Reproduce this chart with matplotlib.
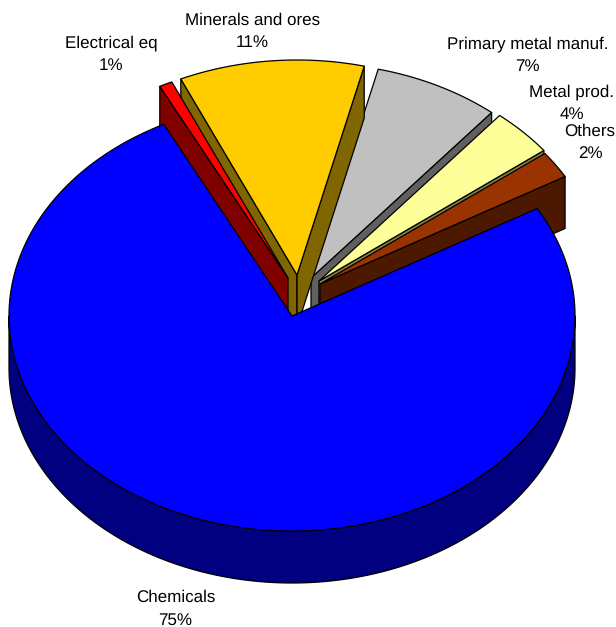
import matplotlib
matplotlib.use('Agg')
import matplotlib.pyplot as plt
import numpy as np
from matplotlib.patches import Polygon

# values, printed labels kept apart (they are rounded)
categories = ['Chemicals', 'Electrical eq', 'Minerals and ores',
              'Primary metal manuf.', 'Metal prod.', 'Others']
values = [75.85, 0.75, 10.55, 7.2, 3.6, 2.05]
pct_labels = ['75%', '1%', '11%', '7%', '4%', '2%']

top_colors = ['#0000FF', '#FF0000', '#FFCC00', '#C0C0C0', '#FFFF99', '#993300']
side_colors = ['#000080', '#800000', '#806600', '#606060', '#80804C', '#4C1900']

# how far each slice is pulled out, in pixels
explode_dx = [0, -4, 5, 19, 27, 28]
explode_dy = [0, -38, -41, -38, -35, -32]
# back to front
draw_order = [3, 4, 5, 2, 1, 0]

label_x = [175.5, 111, 252.5, 527.5, 572, 590]
label_y = [597.5, 43.5, 20, 44, 92.5, 131]
line_gap = 22.5

cx, cy = 292, 316
rx, ry = 283, 215
depth = 52
start = 60.0

plt.rcParams['font.family'] = ['Liberation Sans', 'DejaVu Sans']
plt.rcParams['text.hinting'] = 'no_hinting'
plt.rcParams['text.hinting_factor'] = 1

fig = plt.figure(figsize=(6.16, 6.27), dpi=100)
ax = fig.add_axes([0, 0, 1, 1])
ax.set_xlim(0, 616)
ax.set_ylim(627, 0)
ax.axis('off')


def arc(x0, y0, a, b):
    t = np.radians(np.linspace(a, b, max(int(abs(b - a) * 2), 2)))
    return np.column_stack([x0 + rx * np.sin(t), y0 - ry * np.cos(t)])


def face(pts, color):
    ax.add_patch(Polygon(pts, closed=True, facecolor=color, edgecolor='black',
                         linewidth=0.9, joinstyle='round'))


sweeps = np.array(values) / sum(values) * 360
ends = start + np.cumsum(sweeps)
starts = ends - sweeps

for i in draw_order:
    x0 = cx + explode_dx[i]
    y0 = cy + explode_dy[i]
    a, b = starts[i], ends[i]
    edge = arc(x0, y0, a, b)
    apex = np.array([x0, y0])
    down = np.array([0, depth])

    # radial walls, skip the ones turned away from the viewer
    if np.sin(np.radians(a)) < 0:
        face([apex, edge[0], edge[0] + down, apex + down], side_colors[i])
    if np.sin(np.radians(b)) > 0:
        face([apex, edge[-1], edge[-1] + down, apex + down], side_colors[i])

    # outer wall, only the part that faces the viewer
    lo, hi = max(a, 90), min(b, 270)
    if hi > lo:
        wall = arc(x0, y0, lo, hi)
        face(np.vstack([wall, wall[::-1] + down]), side_colors[i])

    face(np.vstack([apex, edge]), top_colors[i])

for name, pct, x, y in zip(categories, pct_labels, label_x, label_y):
    ax.text(x, y, name, ha='center', va='center', fontsize=12, color='black')
    ax.text(x, y + line_gap, pct, ha='center', va='center', fontsize=12, color='black')

fig.savefig('out.png', dpi=100, facecolor='white')
